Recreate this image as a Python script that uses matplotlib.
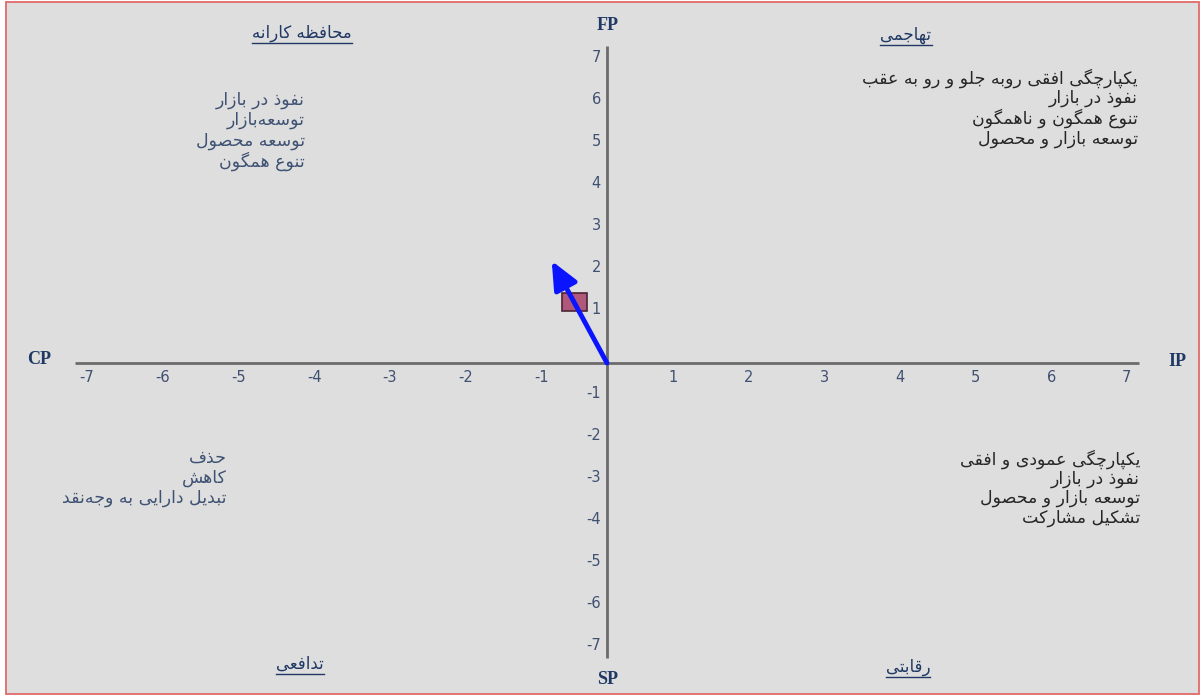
import matplotlib
matplotlib.use("Agg")
import matplotlib.pyplot as plt
from matplotlib.patches import Rectangle
from matplotlib.lines import Line2D
from matplotlib.transforms import offset_copy

# ---------------- data ----------------
x_ticks = [-7, -6, -5, -4, -3, -2, -1, 1, 2, 3, 4, 5, 6, 7]
y_ticks = [-7, -6, -5, -4, -3, -2, -1, 1, 2, 3, 4, 5, 6, 7]
point_x = [-0.43]
point_y = [1.46]
vector_x = [-0.73]
vector_y = [2.43]

axis_names = ["CP", "IP", "FP", "SP"]
titles = ["محافظه کارانه", "تهاجمی", "تدافعی", "رقابتی"]
conservative = ["نفوذ در بازار", "توسعه\u200cبازار", "توسعه محصول", "تنوع همگون"]
aggressive = ["یکپارچگی افقی روبه جلو و رو به عقب", "نفوذ در بازار",
              "تنوع همگون و ناهمگون", "توسعه بازار و محصول"]
defensive = ["حذف", "کاهش", "تبدیل دارایی به وجه\u200cنقد"]
competitive = ["یکپارچگی عمودی و افقی", "نفوذ در بازار",
               "توسعه بازار و محصول", "تشکیل مشارکت"]

# ---------------- simple Persian shaping (presentation forms + RTL) ----------------
FORMS = {
    'ا': ('\uFE8D', '\uFE8E', None, None),
    'آ': ('\uFE81', '\uFE82', None, None),
    'ب': ('\uFE8F', '\uFE90', '\uFE91', '\uFE92'),
    'پ': ('\uFB56', '\uFB57', '\uFB58', '\uFB59'),
    'ت': ('\uFE95', '\uFE96', '\uFE97', '\uFE98'),
    'ث': ('\uFE99', '\uFE9A', '\uFE9B', '\uFE9C'),
    'ج': ('\uFE9D', '\uFE9E', '\uFE9F', '\uFEA0'),
    'چ': ('\uFB7A', '\uFB7B', '\uFB7C', '\uFB7D'),
    'ح': ('\uFEA1', '\uFEA2', '\uFEA3', '\uFEA4'),
    'خ': ('\uFEA5', '\uFEA6', '\uFEA7', '\uFEA8'),
    'د': ('\uFEA9', '\uFEAA', None, None),
    'ذ': ('\uFEAB', '\uFEAC', None, None),
    'ر': ('\uFEAD', '\uFEAE', None, None),
    'ز': ('\uFEAF', '\uFEB0', None, None),
    'ژ': ('\uFB8A', '\uFB8B', None, None),
    'س': ('\uFEB1', '\uFEB2', '\uFEB3', '\uFEB4'),
    'ش': ('\uFEB5', '\uFEB6', '\uFEB7', '\uFEB8'),
    'ص': ('\uFEB9', '\uFEBA', '\uFEBB', '\uFEBC'),
    'ض': ('\uFEBD', '\uFEBE', '\uFEBF', '\uFEC0'),
    'ط': ('\uFEC1', '\uFEC2', '\uFEC3', '\uFEC4'),
    'ظ': ('\uFEC5', '\uFEC6', '\uFEC7', '\uFEC8'),
    'ع': ('\uFEC9', '\uFECA', '\uFECB', '\uFECC'),
    'غ': ('\uFECD', '\uFECE', '\uFECF', '\uFED0'),
    'ف': ('\uFED1', '\uFED2', '\uFED3', '\uFED4'),
    'ق': ('\uFED5', '\uFED6', '\uFED7', '\uFED8'),
    'ک': ('\uFB8E', '\uFB8F', '\uFB90', '\uFB91'),
    'گ': ('\uFB92', '\uFB93', '\uFB94', '\uFB95'),
    'ل': ('\uFEDD', '\uFEDE', '\uFEDF', '\uFEE0'),
    'م': ('\uFEE1', '\uFEE2', '\uFEE3', '\uFEE4'),
    'ن': ('\uFEE5', '\uFEE6', '\uFEE7', '\uFEE8'),
    'ه': ('\uFEE9', '\uFEEA', '\uFEEB', '\uFEEC'),
    'و': ('\uFEED', '\uFEEE', None, None),
    'ی': ('\uFBFC', '\uFBFD', '\uFBFE', '\uFBFF'),
}


def shape(text):
    out = []
    n = len(text)
    for i, c in enumerate(text):
        if c not in FORMS:
            if c != '\u200c':
                out.append(c)
            continue
        iso, fin, ini, med = FORMS[c]
        prev = text[i - 1] if i > 0 else None
        nxt = text[i + 1] if i + 1 < n else None
        jp = prev in FORMS and FORMS[prev][2] is not None
        jn = ini is not None and nxt in FORMS
        if jp and jn:
            out.append(med)
        elif jp:
            out.append(fin)
        elif jn:
            out.append(ini)
        else:
            out.append(iso)
    return ''.join(reversed(out))


# ---------------- figure ----------------
W, H = 1203, 695
fig = plt.figure(figsize=(W / 100, H / 100), dpi=100)
fig.patch.set_facecolor("white")
bg = Rectangle((6 / W, 1 / H), (1199 - 6) / W, (693 - 1) / H, transform=fig.transFigure,
               facecolor="#dedede", edgecolor="#e06a6a", linewidth=1.3, zorder=-10)
fig.patches.append(bg)

ax = fig.add_axes([0, 0, 1, 1])
ax.set_facecolor("none")
ax.axis("off")

OX, OY, UX, UY = 607, 363, 75.7, 42.0
ax.set_xlim((0 - OX) / UX, (W - OX) / UX)
ax.set_ylim((OY - H) / UY, OY / UY)

axis_col = "#6b6b6b"
ax.plot([-7.03, 7.03], [0, 0], color=axis_col, lw=2, zorder=2, solid_capstyle="butt")
ax.plot([0, 0], [-7.02, 7.55], color=axis_col, lw=2, zorder=2, solid_capstyle="butt")

tick_col = "#3f5070"
tr_xl_pos = offset_copy(ax.transData, fig=fig, x=-10, y=-14, units="dots")
tr_xl_neg = offset_copy(ax.transData, fig=fig, x=10, y=-14, units="dots")
for k in x_ticks:
    ax.text(k, 0, str(k), transform=tr_xl_pos if k > 0 else tr_xl_neg,
            ha="center", va="center", fontsize=10.5, color=tick_col, family="DejaVu Sans")
tr_yl = offset_copy(ax.transData, fig=fig, x=-6, y=11, units="dots")
for k in y_ticks:
    ax.text(0, k, str(k), transform=tr_yl, ha="right", va="center",
            fontsize=10.5, color=tick_col, family="DejaVu Sans")

# point and vector
pw, ph = 25 / UX, 18 / UY
for px, py in zip(point_x, point_y):
    ax.add_patch(Rectangle((px - pw / 2, py - ph / 2), pw, ph, facecolor="#b0587a",
                           edgecolor="#4a2435", lw=1.2, zorder=3))
for vx, vy in zip(vector_x, vector_y):
    ax.annotate("", xy=(vx, vy), xytext=(0, 0),
                arrowprops=dict(arrowstyle="-|>,head_length=0.85,head_width=0.38",
                                color="#0a14ff", lw=3.5, shrinkA=0, shrinkB=0,
                                mutation_scale=20), zorder=4)

# axis names
name_pos = [(39, 359), (1177, 362), (608, 25), (608, 680)]
for name, (px, py) in zip(axis_names, name_pos):
    ax.text(px / W, 1 - py / H, name, transform=ax.transAxes, ha="center", va="center",
            fontsize=13, fontweight="bold", family="Liberation Serif", color="#1f3864")

# quadrant titles
title_col = "#1f3864"
title_pos = [(302, 33), (906, 35), (300, 664), (908, 667)]
title_artists = []
for t, (px, py) in zip(titles, title_pos):
    ta = ax.text(px / W, 1 - py / H, shape(t), transform=ax.transAxes, ha="center",
                 va="center", fontsize=12, color=title_col, family="DejaVu Sans")
    title_artists.append(ta)

# quadrant lists
def put_list(items, right_px, top_py, step, color):
    for i, s in enumerate(items):
        ax.text(right_px / W, 1 - (top_py + i * step) / H, shape(s), transform=ax.transAxes,
                ha="right", va="center", fontsize=12.5, color=color, family="DejaVu Sans")

put_list(conservative, 305, 100, 20.3, "#3e5274")
put_list(aggressive, 1138, 78, 20.3, "#262626")
put_list(defensive, 227, 458, 20, "#3e5274")
put_list(competitive, 1140, 459, 19.7, "#262626")

# underline titles
fig.canvas.draw()
r = fig.canvas.get_renderer()
for ta in title_artists:
    bb = ta.get_window_extent(r)
    y = bb.y0 - 1
    fig.add_artist(Line2D([bb.x0 / W, bb.x1 / W], [y / H, y / H], transform=fig.transFigure,
                          color=title_col, lw=1.0))

fig.savefig("out.png", dpi=100, facecolor=fig.get_facecolor())
